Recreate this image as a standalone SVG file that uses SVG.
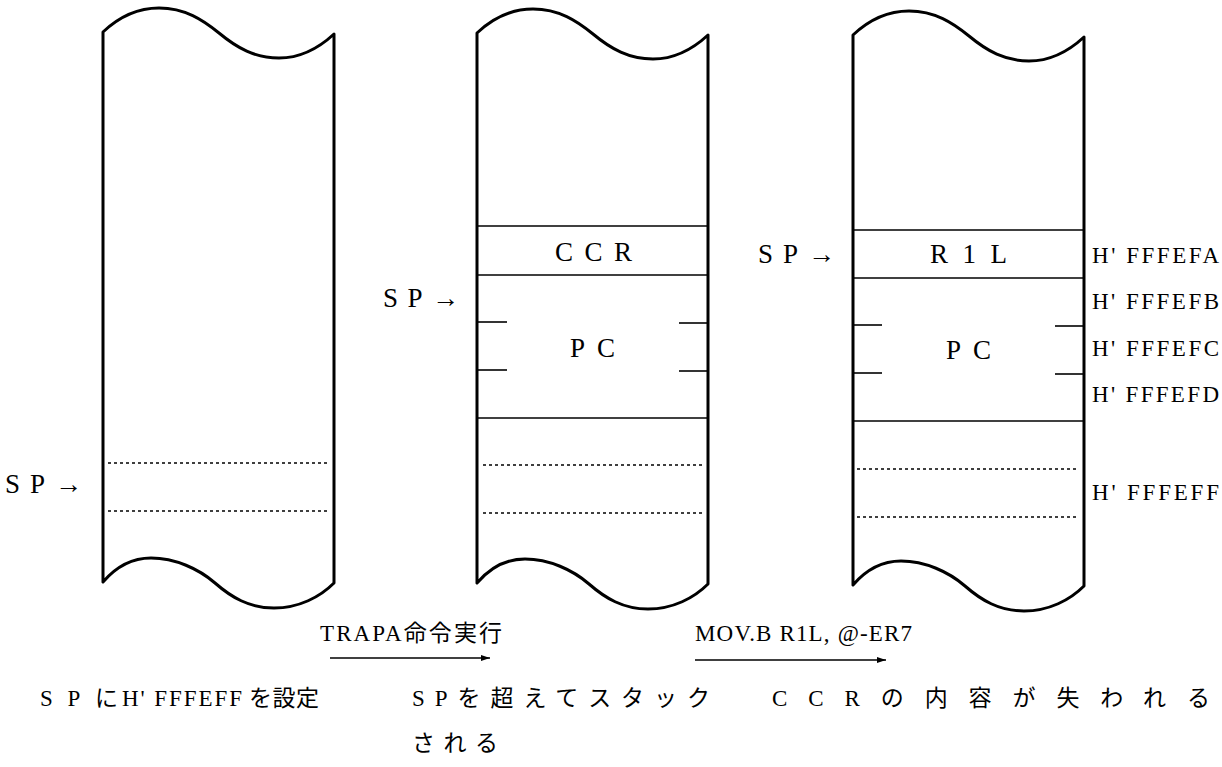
<svg xmlns="http://www.w3.org/2000/svg" width="1222" height="767" viewBox="0 0 1222 767">
<style>
.col{fill:#fff;stroke:#000;stroke-width:3;stroke-linejoin:round}
.ln{stroke:#000;stroke-width:1.6;fill:none}
.dot{stroke:#000;stroke-width:1.6;stroke-dasharray:3 3;fill:none}
.lbl{font-family:'Liberation Serif','DejaVu Serif','Noto Sans CJK JP',serif;font-size:27px;fill:#000}
.hex{font-family:'Liberation Serif','DejaVu Serif',serif;font-size:23px;fill:#000}
.jp{font-family:'Liberation Serif','DejaVu Serif','Noto Sans CJK JP',serif;font-size:23px;fill:#000}
.arr{stroke:#000;stroke-width:1.4;fill:none;marker-end:url(#ah)}
</style>
<defs>
<marker id="ah" markerWidth="10" markerHeight="8" refX="9" refY="4" orient="auto" markerUnits="userSpaceOnUse">
<path d="M0,1 L9,4 L0,7 Z" fill="#000"/>
</marker>
<path id="shape" d="M0,0 C18,-17 36,-24 56,-24 C82,-24 100,-12 116,1 C134,16 152,26 176,26 C198,26 217,15 231,2 L231,551 C217,565 196,576 171,576 C146,576 128,565 112,551 C96,537 72,526 48,526 C28,526 12,536 0,550 Z"/>
</defs>

<g id="stack1">
<use href="#shape" class="col" transform="translate(103,32)"/>
<line class="dot" x1="108" y1="463" x2="329" y2="463"/>
<line class="dot" x1="108" y1="511" x2="329" y2="511"/>
</g>

<g id="stack2">
<use href="#shape" class="col" transform="translate(477,33)"/>
<line class="ln" x1="477" y1="226" x2="708" y2="226"/>
<line class="ln" x1="477" y1="275" x2="708" y2="275"/>
<line class="ln" x1="477" y1="322" x2="507" y2="322"/>
<line class="ln" x1="477" y1="370" x2="507" y2="370"/>
<line class="ln" x1="679" y1="323" x2="708" y2="323"/>
<line class="ln" x1="679" y1="371" x2="708" y2="371"/>
<line class="ln" x1="477" y1="418" x2="708" y2="418"/>
<line class="dot" x1="483" y1="465" x2="702" y2="465"/>
<line class="dot" x1="483" y1="513" x2="702" y2="513"/>
<text class="lbl" x="555" y="261" textLength="77">CCR</text>
<text class="lbl" x="570" y="357" textLength="45">PC</text>
</g>

<g id="stack3">
<use href="#shape" class="col" transform="translate(853,35)"/>
<line class="ln" x1="853" y1="230" x2="1084" y2="230"/>
<line class="ln" x1="853" y1="278" x2="1084" y2="278"/>
<line class="ln" x1="853" y1="325" x2="882" y2="325"/>
<line class="ln" x1="853" y1="373" x2="882" y2="373"/>
<line class="ln" x1="1055" y1="326" x2="1084" y2="326"/>
<line class="ln" x1="1055" y1="374" x2="1084" y2="374"/>
<line class="ln" x1="853" y1="421" x2="1084" y2="421"/>
<line class="dot" x1="857" y1="469" x2="1078" y2="469"/>
<line class="dot" x1="857" y1="517" x2="1078" y2="517"/>
<text class="lbl" x="930" y="263" textLength="77">R1L</text>
<text class="lbl" x="946" y="359" textLength="45">PC</text>
</g>

<g id="sp-labels">
<text class="lbl" x="5" y="493" textLength="77">SP→</text>
<text class="lbl" x="383" y="307" textLength="76">SP→</text>
<text class="lbl" x="758" y="263" textLength="77">SP→</text>
</g>

<g id="addresses">
<text class="hex" x="1092" y="263" textLength="127">H' FFFEFA</text>
<text class="hex" x="1092" y="309" textLength="127">H' FFFEFB</text>
<text class="hex" x="1092" y="356" textLength="127">H' FFFEFC</text>
<text class="hex" x="1092" y="402" textLength="127">H' FFFEFD</text>
<text class="hex" x="1092" y="500" textLength="127">H' FFFEFF</text>
</g>

<g id="connectors">
<line class="arr" x1="330" y1="658" x2="490" y2="658"/>
<line class="arr" x1="695" y1="660" x2="886" y2="660"/>
</g>

<g id="step-labels">
<text class="jp" x="320" y="641" textLength="182">TRAPA命令実行</text>
<text class="hex" x="695" y="641" textLength="217">MOV.B R1L, @-ER7</text>
</g>

<g id="captions">
<text class="jp" y="706"><tspan x="40" textLength="78">SPに</tspan><tspan x="122" class="hex" textLength="120">H' FFFEFF</tspan><tspan x="249" textLength="70">を設定</tspan></text>
<text class="jp" x="412" y="706" textLength="298">SPを超えてスタック</text>
<text class="jp" x="412" y="751" textLength="86">される</text>
<text class="jp" x="772" y="706" textLength="438">CCRの内容が失われる</text>
</g>
</svg>
